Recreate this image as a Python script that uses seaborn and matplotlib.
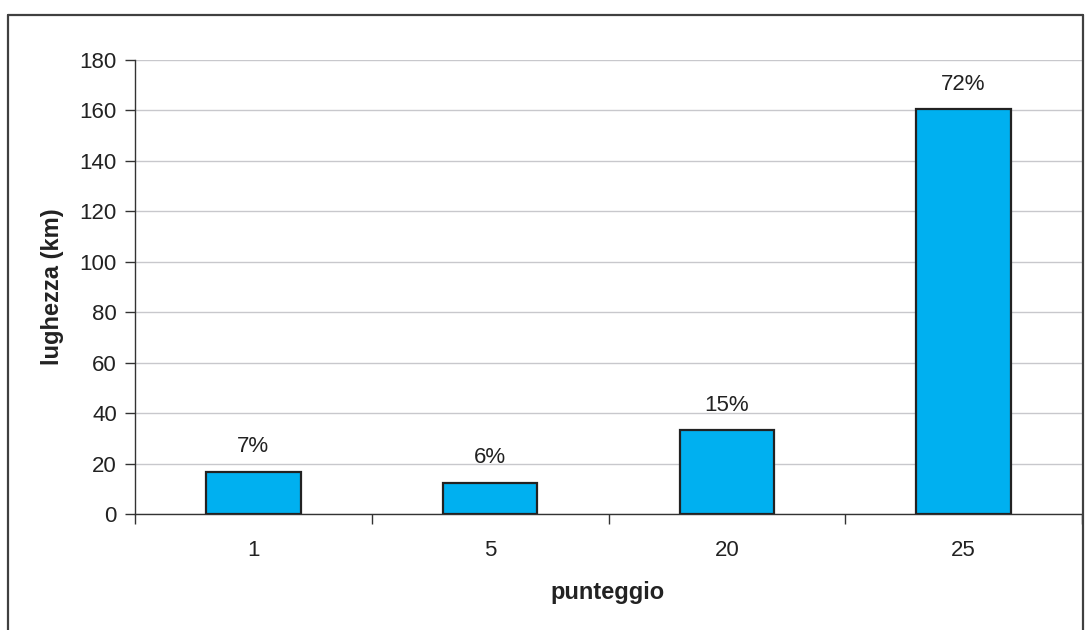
import matplotlib
matplotlib.use("Agg")
import matplotlib.pyplot as plt
import seaborn as sns
import pandas as pd
import numpy as np
from matplotlib.lines import Line2D

categories = ["1", "5", "20", "25"]
values = [16.8, 12.4, 33.3, 160.4]
pct_labels = ["7%", "6%", "15%", "72%"]
y_ticks = [0, 20, 40, 60, 80, 100, 120, 140, 160, 180]

sns.set_style("white")
plt.rcParams['font.family'] = ['Liberation Sans', 'DejaVu Sans']

fig = plt.figure(figsize=(10.9, 6.3), dpi=100)
ax = fig.add_axes([135/1090, 1 - 514/630, (1082-135)/1090, (514-60)/630])

df = pd.DataFrame({"cat": categories, "val": values})
sns.barplot(data=df, x="cat", y="val", ax=ax, color="#00B0F0", saturation=1,
            width=0.4, edgecolor="#222222", linewidth=1.6, zorder=3)

ax.set_ylim(0, 180)
ax.set_xlim(-0.5, len(categories) - 0.5)
ax.set_yticks(y_ticks)
ax.set_yticklabels([str(t) for t in y_ticks], fontsize=16, color="#222222")
ax.yaxis.grid(True, color="#c8c8cc", linewidth=1, zorder=0)
ax.set_axisbelow(True)

# x ticks at boundaries, labels at centers
ax.set_xticks(np.arange(-0.5, len(categories)))
ax.set_xticklabels([])
ax.set_xticks(np.arange(len(categories)), minor=True)
ax.set_xticklabels(categories, minor=True, fontsize=16, color="#222222")
ax.tick_params(axis="x", which="major", length=7, width=1, color="#333333", direction="out", bottom=True)
ax.tick_params(axis="x", which="minor", length=0, pad=19)
ax.tick_params(axis="y", length=7, width=1, color="#333333", direction="out", left=True, pad=6)

for s in ["top", "right"]:
    ax.spines[s].set_visible(False)
for s in ["left", "bottom"]:
    ax.spines[s].set_color("#333333")
    ax.spines[s].set_linewidth(1)

for i, (v, lab) in enumerate(zip(values, pct_labels)):
    ax.annotate(lab, xy=(i, v), xytext=(0, 18), textcoords="offset points",
                ha="center", va="center", fontsize=16, color="#222222")

ax.set_ylabel("")
ax.set_xlabel("")
fig.text(53/1090, 1 - 287/630, "lughezza (km)", rotation=90, ha="center", va="center",
         fontsize=17, fontweight="bold", color="#222222")
fig.text(608/1090, 1 - 592/630, "punteggio", ha="center", va="center",
         fontsize=17, fontweight="bold", color="#222222")

# outer frame
x0, x1 = 8/1090, 1083/1090
yt = 1 - 15/630
frame_kw = dict(color="#404040", linewidth=1.6, transform=fig.transFigure)
fig.add_artist(Line2D([x0, x0], [0, yt], **frame_kw))
fig.add_artist(Line2D([x0, x1], [yt, yt], **frame_kw))
fig.add_artist(Line2D([x1, x1], [0, yt], **frame_kw))

fig.savefig("out.png", dpi=100)
